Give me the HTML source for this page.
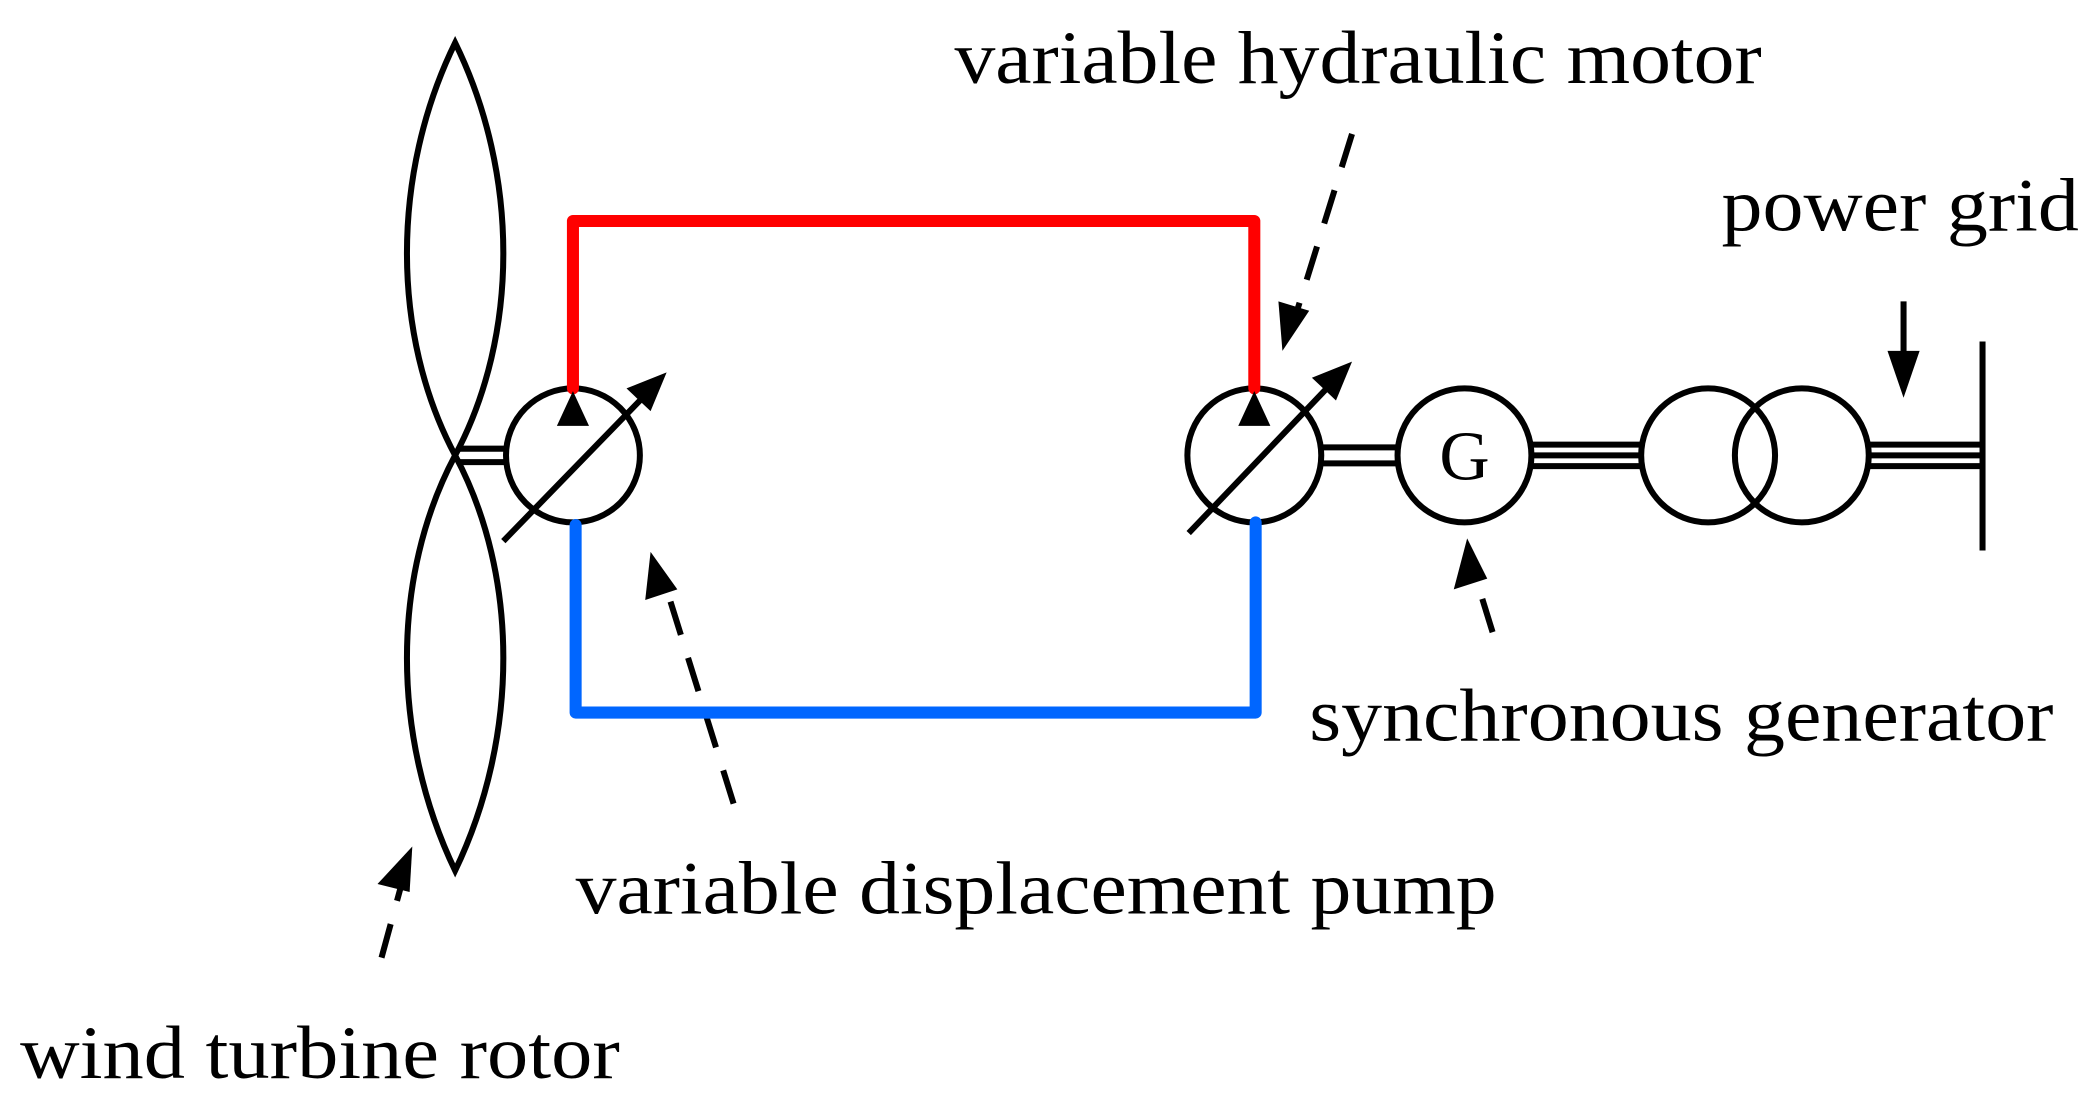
<!DOCTYPE html>
<html><head><meta charset="utf-8"><style>html,body{margin:0;padding:0;background:#fff}svg{display:block}text{font-family:"Liberation Serif","Times New Roman",Times,serif}</style></head>
<body>
<svg width="2099" height="1109" viewBox="0 0 1568 828" preserveAspectRatio="none" xmlns="http://www.w3.org/2000/svg">
<g fill="none" stroke="#000" stroke-width="4.5">
<path d="M340,32 C388,130 388,250 340,340 C292,250 292,130 340,32 Z"/>
<path d="M340,340 C388,430 388,550 340,650 C292,550 292,430 340,340 Z"/>
<line x1="342" y1="335" x2="380" y2="335"/><line x1="342" y1="345" x2="380" y2="345"/>
<circle cx="428" cy="340" r="50"/>
<circle cx="937" cy="340" r="50"/>
<circle cx="1094" cy="340" r="50"/>
<circle cx="1276" cy="340" r="50"/>
<circle cx="1346" cy="340" r="50"/>
<line x1="987" y1="334" x2="1044" y2="334"/><line x1="987" y1="346" x2="1044" y2="346"/>
<line x1="1144" y1="332" x2="1226" y2="332"/><line x1="1144" y1="340" x2="1226" y2="340"/><line x1="1144" y1="348" x2="1226" y2="348"/>
<line x1="1396" y1="332" x2="1481" y2="332"/><line x1="1396" y1="340" x2="1481" y2="340"/><line x1="1396" y1="348" x2="1481" y2="348"/>
<line x1="1481" y1="255" x2="1481" y2="411"/>
<line x1="376" y1="404" x2="480" y2="297"/>
<line x1="888" y1="398" x2="993" y2="288"/>
<line x1="1422" y1="225" x2="1422" y2="275"/>
<g stroke-dasharray="26,18">
<line x1="1010" y1="100" x2="968" y2="235"/>
<line x1="1115" y1="472" x2="1102" y2="430"/>
<line x1="548" y1="600" x2="498" y2="440"/>
<line x1="285" y1="715" x2="300" y2="660"/>
</g>
</g>
<g fill="none" stroke-width="9" stroke-linejoin="round" stroke-linecap="round">
<path d="M428,290 V165 H937 V290" stroke="#ff0000"/>
<path d="M430,392 V532 H938 V390" stroke="#0066ff"/>
</g>
<g fill="#000">
<polygon points="428,292 416,318 440,318"/>
<polygon points="937,292 925,318 949,318"/>
<polygon points="498,278 468,290 486,307"/>
<polygon points="1010,270 980,282 998,299"/>
<polygon points="1422,297 1410,262 1434,262"/>
<polygon points="958,262 955,225 978,232"/>
<polygon points="1096,402 1086,440 1111,432"/>
<polygon points="486,412 482,448 506,440"/>
<polygon points="308,632 282,660 306,666"/>
</g>
<g font-size="56" fill="#000">
<text x="713" y="62" textLength="603" lengthAdjust="spacingAndGlyphs">variable hydraulic motor</text>
<text x="1286" y="172" textLength="267" lengthAdjust="spacingAndGlyphs">power grid</text>
<text x="978" y="553" textLength="556" lengthAdjust="spacingAndGlyphs">synchronous generator</text>
<text x="430" y="682" textLength="688" lengthAdjust="spacingAndGlyphs">variable displacement pump</text>
<text x="15" y="805" textLength="448" lengthAdjust="spacingAndGlyphs">wind turbine rotor</text>
<text x="1094" y="358" text-anchor="middle" font-size="52">G</text>
</g>
</svg>
</body></html>
